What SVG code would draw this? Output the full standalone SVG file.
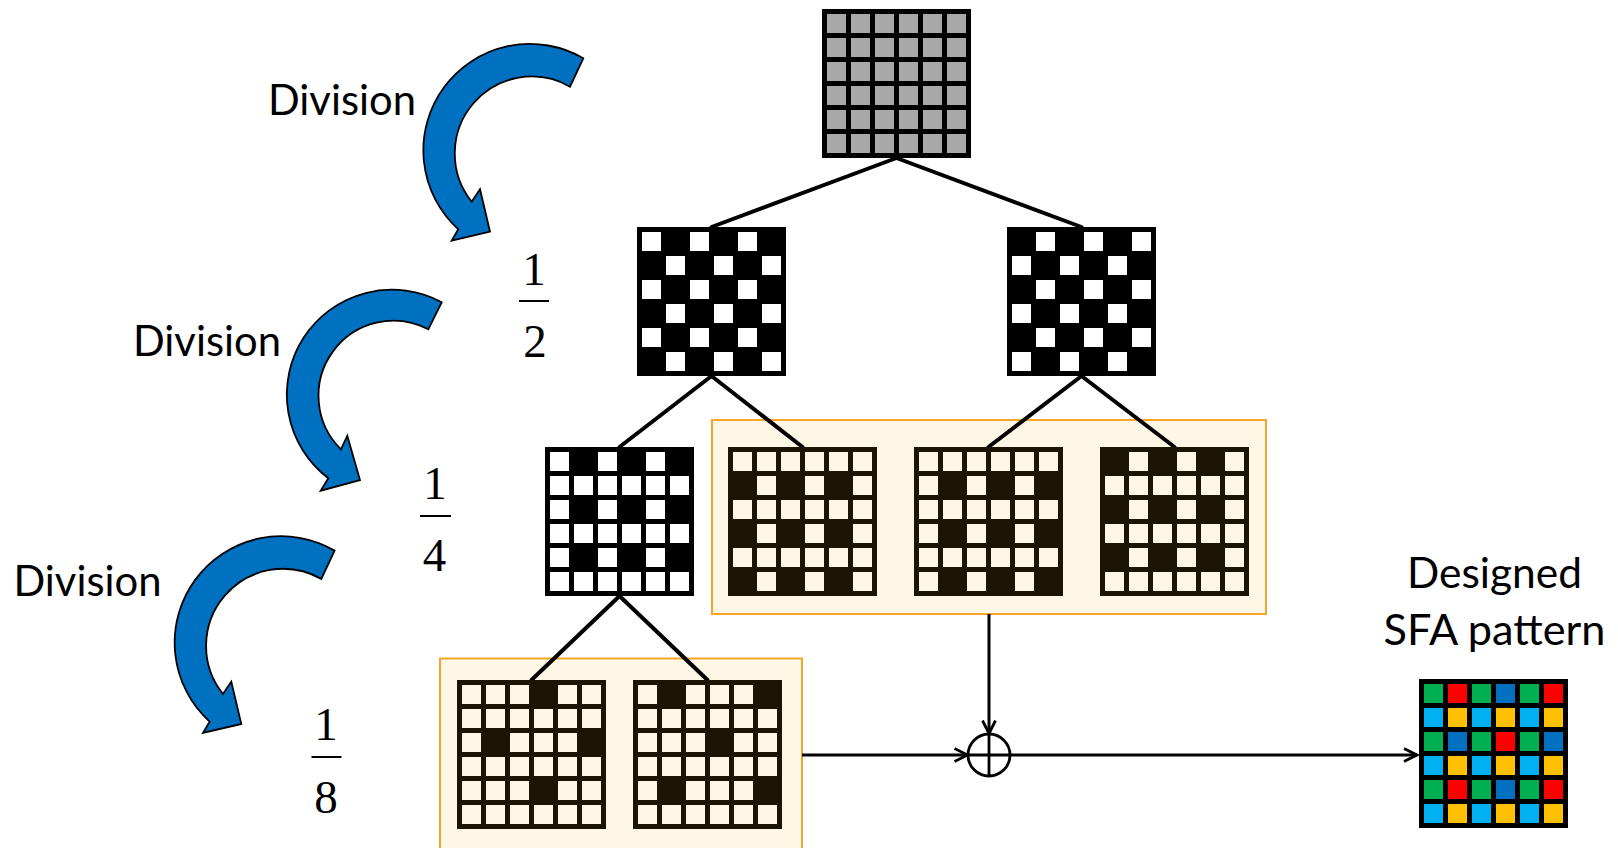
<svg xmlns="http://www.w3.org/2000/svg" xmlns:xlink="http://www.w3.org/1999/xlink" width="1618" height="848" viewBox="0 0 1618 848">
<style>
.lbl{font-family:Lato,"Open Sans","Liberation Sans",sans-serif;font-size:42.5px;fill:#000}
.frac{font-family:"Liberation Serif","Times New Roman",serif;font-size:47px;fill:#000;text-anchor:middle}
.fl{stroke:#000;stroke-width:2}
.tree{stroke:#000;stroke-width:4;fill:none;stroke-linecap:round}
.flow{stroke:#000;stroke-width:3;fill:none}
.barrow{fill:#0070c0;stroke:#000;stroke-width:1.8;stroke-linejoin:miter}
.bk{fill:#000}
.dk{fill:#1c1405}
.wh{fill:#fff}
.cr{fill:#fff7e6}
.gr{fill:#a9a9a9}
.box{fill:#fff7e6;stroke:#f4a62a;stroke-width:2}
</style>
<defs>
<rect id="c" width="19" height="19"/>
<g id="rAll"><use href="#c" x="5"/><use href="#c" x="29"/><use href="#c" x="53"/><use href="#c" x="77"/><use href="#c" x="101"/><use href="#c" x="125"/></g>
<g id="rEven"><use href="#c" x="5"/><use href="#c" x="53"/><use href="#c" x="101"/></g>
<g id="rOdd"><use href="#c" x="29"/><use href="#c" x="77"/><use href="#c" x="125"/></g>
<g id="rNo3"><use href="#c" x="5"/><use href="#c" x="29"/><use href="#c" x="53"/><use href="#c" x="101"/><use href="#c" x="125"/></g>
<g id="rNo15"><use href="#c" x="5"/><use href="#c" x="53"/><use href="#c" x="77"/><use href="#c" x="101"/></g>
<marker id="ah" markerUnits="userSpaceOnUse" markerWidth="18" markerHeight="18" refX="14" refY="8" orient="auto" viewBox="0 0 18 18">
<path d="M1,1.5 L14,8 L1,14.5" fill="none" stroke="#000" stroke-width="2.8"/>
</marker>
</defs>
<rect width="1618" height="848" fill="#fff"/>

<!-- blue curved arrows and labels -->
<g id="div1">
<path class="barrow" d="M583.3,58.3 A106.5,106.5 0 0 0 458.3,229.3 L451.7,240.7 L490,231.7 L480,189.3 L471.7,201.7 A77,77 0 0 1 570,86.7 Z"/>
<text class="lbl" x="268" y="115" textLength="148" lengthAdjust="spacingAndGlyphs">Division</text>
</g>
<g id="div2">
<path class="barrow" d="M441.7,302.3 A105,105 0 0 0 328.3,478.3 L320.7,490.7 L360,480 L347.3,435.7 L341,449.3 A75,75 0 0 1 428.3,329.3 Z"/>
<text class="lbl" x="133" y="355.5" textLength="148" lengthAdjust="spacingAndGlyphs">Division</text>
</g>
<g id="div3">
<path class="barrow" d="M334.6,550.6 A106.5,106.5 0 0 0 209.6,721.6 L203,733 L241.3,724 L231.3,681.6 L223,694 A77,77 0 0 1 321.3,579 Z"/>
<text class="lbl" x="13.5" y="596" textLength="148" lengthAdjust="spacingAndGlyphs">Division</text>
</g>

<!-- fractions -->
<g id="frac2">
<text class="frac" x="534" y="285">1</text>
<line class="fl" x1="519" y1="301" x2="549" y2="301"/>
<text class="frac" x="535" y="357">2</text>
</g>
<g id="frac4">
<text class="frac" x="435" y="499">1</text>
<line class="fl" x1="420" y1="516" x2="451" y2="516"/>
<text class="frac" x="434.5" y="571">4</text>
</g>
<g id="frac8">
<text class="frac" x="326" y="740">1</text>
<line class="fl" x1="311.5" y1="757" x2="341.5" y2="757"/>
<text class="frac" x="326" y="813">8</text>
</g>

<!-- orange highlight boxes -->
<rect id="boxA" class="box" x="712" y="420" width="554" height="194"/>
<rect id="boxB" class="box" x="440" y="658.5" width="362" height="192"/>

<!-- connectors -->
<g id="connectors">
<line class="tree" x1="896.5" y1="158" x2="711.5" y2="227"/>
<line class="tree" x1="896.5" y1="158" x2="1081.5" y2="227"/>
<line class="tree" x1="711.5" y1="376" x2="619.5" y2="447"/>
<line class="tree" x1="711.5" y1="376" x2="802.5" y2="447"/>
<line class="tree" x1="1081.5" y1="376" x2="988.5" y2="447"/>
<line class="tree" x1="1081.5" y1="376" x2="1174.5" y2="447"/>
<line class="tree" x1="619.5" y1="596" x2="531.5" y2="680"/>
<line class="tree" x1="619.5" y1="596" x2="707.5" y2="680"/>
<line class="flow" x1="989" y1="614" x2="989" y2="733.5" marker-end="url(#ah)"/>
<line class="flow" x1="802" y1="755" x2="967.5" y2="755" marker-end="url(#ah)"/>
<line class="flow" x1="1010" y1="755" x2="1417" y2="755" marker-end="url(#ah)"/>
</g>

<g id="sum">
<circle cx="989" cy="755" r="21" fill="#fff" stroke="#000" stroke-width="2.8"/>
<line x1="968" y1="755" x2="1010" y2="755" stroke="#000" stroke-width="2.8"/>
<line x1="989" y1="734" x2="989" y2="776" stroke="#000" stroke-width="2.8"/>
</g>

<!-- grids -->
<g id="g1" transform="translate(822,9)">
<rect class="bk" width="149" height="149"/>
<g class="gr"><use href="#rAll" y="5"/><use href="#rAll" y="29"/><use href="#rAll" y="53"/><use href="#rAll" y="77"/><use href="#rAll" y="101"/><use href="#rAll" y="125"/></g>
</g>
<g id="g2" transform="translate(637,227)">
<rect class="bk" width="149" height="149"/>
<g class="wh"><use href="#rEven" y="5"/><use href="#rOdd" y="29"/><use href="#rEven" y="53"/><use href="#rOdd" y="77"/><use href="#rEven" y="101"/><use href="#rOdd" y="125"/></g>
</g>
<g id="g3" transform="translate(1007,227)">
<rect class="bk" width="149" height="149"/>
<g class="wh"><use href="#rOdd" y="5"/><use href="#rEven" y="29"/><use href="#rOdd" y="53"/><use href="#rEven" y="77"/><use href="#rOdd" y="101"/><use href="#rEven" y="125"/></g>
</g>
<g id="g4" transform="translate(545,447)">
<rect class="bk" width="149" height="149"/>
<g class="wh"><use href="#rEven" y="5"/><use href="#rAll" y="29"/><use href="#rEven" y="53"/><use href="#rAll" y="77"/><use href="#rEven" y="101"/><use href="#rAll" y="125"/></g>
</g>
<g id="g5" transform="translate(728,447)">
<rect class="dk" width="149" height="149"/>
<g class="cr"><use href="#rAll" y="5"/><use href="#rOdd" y="29"/><use href="#rAll" y="53"/><use href="#rOdd" y="77"/><use href="#rAll" y="101"/><use href="#rOdd" y="125"/></g>
</g>
<g id="g6" transform="translate(914,447)">
<rect class="dk" width="149" height="149"/>
<g class="cr"><use href="#rAll" y="5"/><use href="#rEven" y="29"/><use href="#rAll" y="53"/><use href="#rEven" y="77"/><use href="#rAll" y="101"/><use href="#rEven" y="125"/></g>
</g>
<g id="g7" transform="translate(1100,447)">
<rect class="dk" width="149" height="149"/>
<g class="cr"><use href="#rOdd" y="5"/><use href="#rAll" y="29"/><use href="#rOdd" y="53"/><use href="#rAll" y="77"/><use href="#rOdd" y="101"/><use href="#rAll" y="125"/></g>
</g>
<g id="g8" transform="translate(457,680)">
<rect class="dk" width="149" height="149"/>
<g class="cr"><use href="#rNo3" y="5"/><use href="#rAll" y="29"/><use href="#rNo15" y="53"/><use href="#rAll" y="77"/><use href="#rNo3" y="101"/><use href="#rAll" y="125"/></g>
</g>
<g id="g9" transform="translate(633,680)">
<rect class="dk" width="149" height="149"/>
<g class="cr"><use href="#rNo15" y="5"/><use href="#rAll" y="29"/><use href="#rNo3" y="53"/><use href="#rAll" y="77"/><use href="#rNo15" y="101"/><use href="#rAll" y="125"/></g>
</g>
<g id="sfa" transform="translate(1419,679)">
<rect class="bk" width="149" height="149"/>
<g fill="#00b050"><use href="#rEven" y="5"/><use href="#rEven" y="53"/><use href="#rEven" y="101"/></g>
<g fill="#00b0f0"><use href="#rEven" y="29"/><use href="#rEven" y="77"/><use href="#rEven" y="125"/></g>
<g fill="#ffc000"><use href="#rOdd" y="29"/><use href="#rOdd" y="77"/><use href="#rOdd" y="125"/></g>
<g fill="#ff0000"><use href="#c" x="29" y="5"/><use href="#c" x="125" y="5"/><use href="#c" x="77" y="53"/><use href="#c" x="29" y="101"/><use href="#c" x="125" y="101"/></g>
<g fill="#0070c0"><use href="#c" x="77" y="5"/><use href="#c" x="29" y="53"/><use href="#c" x="125" y="53"/><use href="#c" x="77" y="101"/></g>
</g>

<g id="sfaLabel">
<text class="lbl" x="1494.5" y="588" text-anchor="middle" textLength="175" lengthAdjust="spacingAndGlyphs">Designed</text>
<text class="lbl" x="1494.5" y="645" text-anchor="middle" textLength="222" lengthAdjust="spacingAndGlyphs">SFA pattern</text>
</g>
</svg>
